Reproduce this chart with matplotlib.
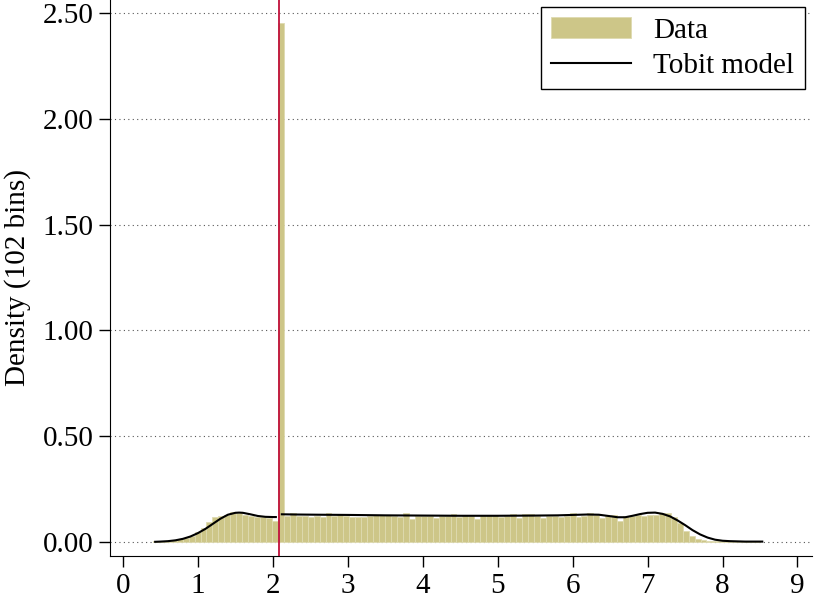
import matplotlib
matplotlib.use("Agg")
import matplotlib.pyplot as plt
import numpy as np

# histogram: 102 bins between these limits
bin_lo, bin_hi = 0.40, 8.50
density = [0.003, 0.003, 0.005, 0.008, 0.012, 0.020, 0.030, 0.045, 0.068, 0.095,
           0.118, 0.125, 0.130, 0.140, 0.136, 0.130, 0.121, 0.119, 0.116, 0.112,
           0.100,
           2.45,
           0.124, 0.138, 0.121, 0.125, 0.120, 0.124, 0.118, 0.135, 0.121, 0.131,
           0.124, 0.119, 0.117, 0.117, 0.122, 0.129, 0.129, 0.128, 0.121, 0.120,
           0.135, 0.110, 0.121, 0.124, 0.122, 0.115, 0.121, 0.125, 0.133, 0.117,
           0.130, 0.122, 0.110, 0.130, 0.129, 0.130, 0.117, 0.124, 0.133, 0.113,
           0.133, 0.132, 0.123, 0.113, 0.122, 0.124, 0.117, 0.123, 0.135, 0.117,
           0.125, 0.137, 0.126, 0.113, 0.124, 0.129, 0.100, 0.121, 0.125, 0.127,
           0.125, 0.130, 0.130, 0.135, 0.137, 0.120, 0.090, 0.050, 0.030, 0.016,
           0.010, 0.007, 0.005, 0.004, 0.004, 0.003, 0.003, 0.003, 0.003, 0.003]

# tobit model density, below and above the censoring point
tobit_left_x = [0.43, 0.5, 0.6, 0.7, 0.8, 0.9, 1.0, 1.1, 1.2, 1.3, 1.4, 1.5,
                1.55, 1.6, 1.7, 1.8, 1.9, 2.0, 2.04]
tobit_left_y = [0.001, 0.002, 0.004, 0.008, 0.015, 0.026, 0.042, 0.062, 0.086,
                0.110, 0.129, 0.138, 0.139, 0.138, 0.131, 0.123, 0.119, 0.118, 0.118]
tobit_right_x = [2.12, 2.3, 2.6, 3.0, 3.5, 4.0, 4.5, 5.0, 5.5, 5.8, 6.0, 6.2,
                 6.35, 6.5, 6.6, 6.7, 6.8, 6.9, 7.0, 7.1, 7.2, 7.3, 7.4, 7.5,
                 7.6, 7.7, 7.8, 7.9, 8.0, 8.1, 8.2, 8.3, 8.53]
tobit_right_y = [0.131, 0.130, 0.129, 0.128, 0.126, 0.125, 0.124, 0.124, 0.125,
                 0.126, 0.128, 0.130, 0.129, 0.122, 0.117, 0.117, 0.124, 0.132,
                 0.138, 0.139, 0.133, 0.121, 0.102, 0.080, 0.056, 0.036, 0.021,
                 0.011, 0.006, 0.004, 0.003, 0.002, 0.002]

censor_point = 2.08

x_ticks = [0, 1, 2, 3, 4, 5, 6, 7, 8, 9]
y_ticks = [0.0, 0.5, 1.0, 1.5, 2.0, 2.5]

plt.rcParams['font.family'] = ['Liberation Serif', 'DejaVu Serif']

fig = plt.figure(figsize=(8.3, 6.04), dpi=100)
ax = fig.add_axes([0.1325, 0.0795, 0.8455, 0.9205])

edges = np.linspace(bin_lo, bin_hi, len(density) + 1)
bars = ax.bar(edges[:-1], density, width=np.diff(edges), align='edge',
              facecolor='#cdc688', edgecolor='#dedab0', linewidth=0.6,
              label='Data', zorder=2)
line, = ax.plot(tobit_left_x, tobit_left_y, color='black', lw=1.5, zorder=3,
                label='Tobit model')
ax.plot(tobit_right_x, tobit_right_y, color='black', lw=1.5, zorder=3)
ax.axvline(censor_point, color='#c0103a', lw=1.3, zorder=4)

ax.set_xlim(-0.173, 9.19)
ax.set_ylim(-0.066, 2.561)
ax.set_xticks(x_ticks)
ax.set_yticks(y_ticks)
ax.set_yticklabels([f"{v:.2f}" for v in y_ticks])
ax.tick_params(labelsize=21, length=8, width=1, direction='out', pad=4)
ax.set_ylabel("Density (102 bins)", fontsize=21, labelpad=8)

ax.grid(axis='y', linestyle=(0, (1, 3)), color='#555555', lw=0.8)
ax.set_axisbelow(True)
for s in ['top', 'right']:
    ax.spines[s].set_visible(False)

leg = ax.legend([bars, line], ['Data', 'Tobit model'],
                loc='upper right', bbox_to_anchor=(0.99, 0.988), fontsize=21,
                frameon=True, fancybox=False, edgecolor='black',
                handlelength=2.75, handleheight=0.7, handletextpad=0.75,
                labelspacing=0.3, borderpad=0.36, borderaxespad=0)
leg.get_frame().set_linewidth(1.0)
leg.get_frame().set_alpha(1)

fig.savefig("out.png", dpi=100)
